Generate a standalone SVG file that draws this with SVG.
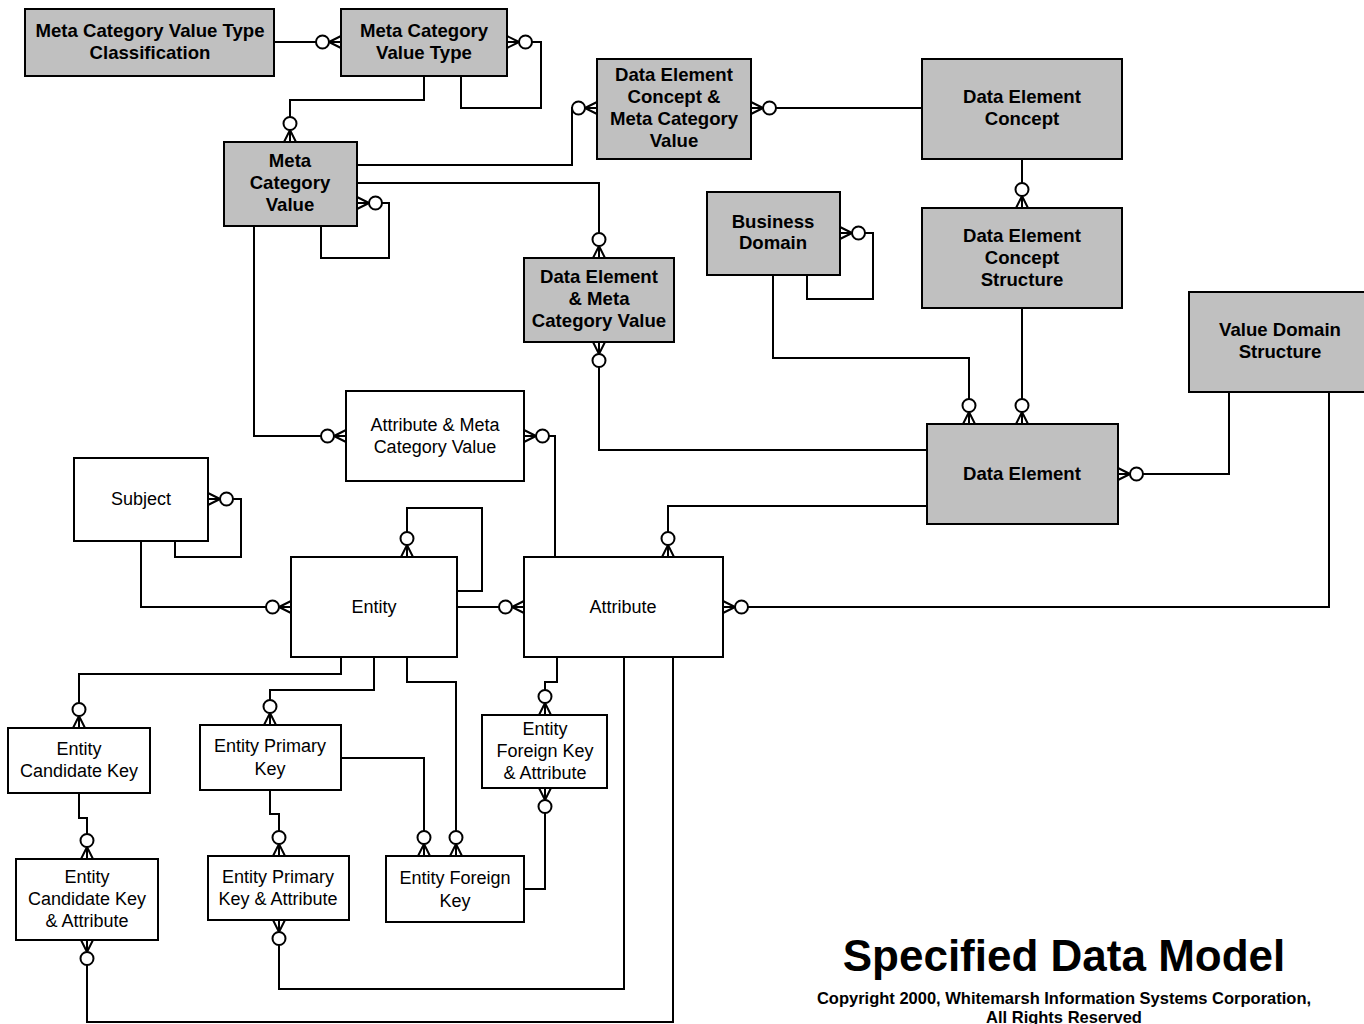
<svg xmlns="http://www.w3.org/2000/svg" xmlns:xlink="http://www.w3.org/1999/xlink" width="1364" height="1024" viewBox="0 0 1364 1024">
  <style>
    .box { stroke: #000; stroke-width: 2; }
    .gray { fill: #c0c0c0; }
    .white { fill: #fff; }
    .lbl { font-family: "Liberation Sans", Arial, sans-serif; font-size: 18px; text-anchor: middle; fill: #000; }
    .b { font-weight: bold; font-size: 18.6px; }
    .conn { fill: none; stroke: #000; stroke-width: 2; stroke-linejoin: miter; }
    .title { font-family: "Liberation Sans", Arial, sans-serif; font-weight: bold; text-anchor: middle; fill: #000; }
  </style>
  <defs>
    <!-- zero-or-many end: origin on the entity edge, line arrives from -y -->
    <g id="cf">
      <path d="M0,-12 L-6,0 M0,-12 L6,0 M0,-12 L0,0" fill="none" stroke="#000" stroke-width="2"/>
      <circle cx="0" cy="-18.5" r="6.5" fill="#fff" stroke="#000" stroke-width="2"/>
    </g>
  </defs>
  <rect width="1364" height="1024" fill="#fff"/>

  <!-- relationship lines -->
  <g id="connectors" class="conn">
    <path d="M274,42 H341"/>
    <path d="M507,42 H541 V108 H461 V76"/>
    <path d="M424,76 V100 H290 V142"/>
    <path d="M357,203 H389 V258 H321 V226"/>
    <path d="M357,165 H572 V108 H597"/>
    <path d="M357,183 H599 V258"/>
    <path d="M751,108 H922"/>
    <path d="M1022,159 V208"/>
    <path d="M840,233 H873 V299 H807 V275"/>
    <path d="M773,275 V358 H969 V424"/>
    <path d="M1022,308 V424"/>
    <path d="M599,342 V450 H927"/>
    <path d="M1229,392 V474 H1118"/>
    <path d="M1329,392 V607 H723"/>
    <path d="M927,506 H668 V557"/>
    <path d="M254,226 V436 H346"/>
    <path d="M524,436 H555 V557"/>
    <path d="M208,499 H241 V557 H175 V541"/>
    <path d="M141,541 V607 H291"/>
    <path d="M407,557 V508 H482 V591 H457"/>
    <path d="M457,607 H524"/>
    <path d="M341,657 V674 H79 V728"/>
    <path d="M374,657 V690 H270 V725"/>
    <path d="M407,657 V682 H456 V856"/>
    <path d="M557,657 V682 H545 V715"/>
    <path d="M79,793 V818 H87 V859"/>
    <path d="M270,790 V814 H279 V856"/>
    <path d="M341,758 H424 V856"/>
    <path d="M545,788 V889 H524"/>
    <path d="M624,657 V989 H279 V920"/>
    <path d="M673,657 V1022 H87 V940"/>
  </g>

  <!-- entities -->
  <g id="mcv-type-classification">
    <rect class="box gray" x="25" y="9" width="249" height="67"/>
    <text class="lbl b" x="150" y="37">Meta Category Value Type</text>
    <text class="lbl b" x="150" y="59">Classification</text>
  </g>
  <g id="mcv-type">
    <rect class="box gray" x="341" y="9" width="166" height="67"/>
    <text class="lbl b" x="424" y="37">Meta Category</text>
    <text class="lbl b" x="424" y="59">Value Type</text>
  </g>
  <g id="meta-category-value">
    <rect class="box gray" x="224" y="142" width="133" height="84"/>
    <text class="lbl b" x="290" y="167">Meta</text>
    <text class="lbl b" x="290" y="189">Category</text>
    <text class="lbl b" x="290" y="211">Value</text>
  </g>
  <g id="dec-mcv">
    <rect class="box gray" x="597" y="59" width="154" height="100"/>
    <text class="lbl b" x="674" y="81">Data Element</text>
    <text class="lbl b" x="674" y="103">Concept &amp;</text>
    <text class="lbl b" x="674" y="125">Meta Category</text>
    <text class="lbl b" x="674" y="147">Value</text>
  </g>
  <g id="data-element-concept">
    <rect class="box gray" x="922" y="59" width="200" height="100"/>
    <text class="lbl b" x="1022" y="103">Data Element</text>
    <text class="lbl b" x="1022" y="125">Concept</text>
  </g>
  <g id="business-domain">
    <rect class="box gray" x="707" y="192" width="133" height="83"/>
    <text class="lbl b" x="773" y="228">Business</text>
    <text class="lbl b" x="773" y="249">Domain</text>
  </g>
  <g id="dec-structure">
    <rect class="box gray" x="922" y="208" width="200" height="100"/>
    <text class="lbl b" x="1022" y="242">Data Element</text>
    <text class="lbl b" x="1022" y="264">Concept</text>
    <text class="lbl b" x="1022" y="286">Structure</text>
  </g>
  <g id="de-mcv">
    <rect class="box gray" x="524" y="258" width="150" height="84"/>
    <text class="lbl b" x="599" y="283">Data Element</text>
    <text class="lbl b" x="599" y="305">&amp; Meta</text>
    <text class="lbl b" x="599" y="327">Category Value</text>
  </g>
  <g id="value-domain-structure">
    <rect class="box gray" x="1189" y="292" width="180" height="100"/>
    <text class="lbl b" x="1280" y="336">Value Domain</text>
    <text class="lbl b" x="1280" y="358">Structure</text>
  </g>
  <g id="data-element">
    <rect class="box gray" x="927" y="424" width="191" height="100"/>
    <text class="lbl b" x="1022" y="480">Data Element</text>
  </g>
  <g id="attribute-mcv">
    <rect class="box white" x="346" y="391" width="178" height="90"/>
    <text class="lbl" x="435" y="431">Attribute &amp; Meta</text>
    <text class="lbl" x="435" y="453">Category Value</text>
  </g>
  <g id="subject">
    <rect class="box white" x="74" y="458" width="134" height="83"/>
    <text class="lbl" x="141" y="505">Subject</text>
  </g>
  <g id="entity">
    <rect class="box white" x="291" y="557" width="166" height="100"/>
    <text class="lbl" x="374" y="613">Entity</text>
  </g>
  <g id="attribute">
    <rect class="box white" x="524" y="557" width="199" height="100"/>
    <text class="lbl" x="623" y="613">Attribute</text>
  </g>
  <g id="entity-candidate-key">
    <rect class="box white" x="8" y="728" width="142" height="65"/>
    <text class="lbl" x="79" y="755">Entity</text>
    <text class="lbl" x="79" y="777">Candidate Key</text>
  </g>
  <g id="entity-primary-key">
    <rect class="box white" x="200" y="725" width="141" height="65"/>
    <text class="lbl" x="270" y="752">Entity Primary</text>
    <text class="lbl" x="270" y="775">Key</text>
  </g>
  <g id="efk-attribute">
    <rect class="box white" x="482" y="715" width="125" height="73"/>
    <text class="lbl" x="545" y="735">Entity</text>
    <text class="lbl" x="545" y="757">Foreign Key</text>
    <text class="lbl" x="545" y="779">&amp; Attribute</text>
  </g>
  <g id="eck-attribute">
    <rect class="box white" x="16" y="859" width="142" height="81"/>
    <text class="lbl" x="87" y="883">Entity</text>
    <text class="lbl" x="87" y="905">Candidate Key</text>
    <text class="lbl" x="87" y="927">&amp; Attribute</text>
  </g>
  <g id="epk-attribute">
    <rect class="box white" x="208" y="856" width="141" height="64"/>
    <text class="lbl" x="278" y="883">Entity Primary</text>
    <text class="lbl" x="278" y="905">Key &amp; Attribute</text>
  </g>
  <g id="entity-foreign-key">
    <rect class="box white" x="386" y="856" width="138" height="66"/>
    <text class="lbl" x="455" y="884">Entity Foreign</text>
    <text class="lbl" x="455" y="907">Key</text>
  </g>

  <!-- zero-or-many ends -->
  <g id="cardinality">
    <use xlink:href="#cf" transform="translate(341,42) rotate(-90)"/>
    <use xlink:href="#cf" transform="translate(507,42) rotate(90)"/>
    <use xlink:href="#cf" transform="translate(290,142)"/>
    <use xlink:href="#cf" transform="translate(357,203) rotate(90)"/>
    <use xlink:href="#cf" transform="translate(597,108) rotate(-90)"/>
    <use xlink:href="#cf" transform="translate(599,258)"/>
    <use xlink:href="#cf" transform="translate(751,108) rotate(90)"/>
    <use xlink:href="#cf" transform="translate(1022,208)"/>
    <use xlink:href="#cf" transform="translate(840,233) rotate(90)"/>
    <use xlink:href="#cf" transform="translate(969,424)"/>
    <use xlink:href="#cf" transform="translate(1022,424)"/>
    <use xlink:href="#cf" transform="translate(599,342) rotate(180)"/>
    <use xlink:href="#cf" transform="translate(1118,474) rotate(90)"/>
    <use xlink:href="#cf" transform="translate(723,607) rotate(90)"/>
    <use xlink:href="#cf" transform="translate(668,557)"/>
    <use xlink:href="#cf" transform="translate(346,436) rotate(-90)"/>
    <use xlink:href="#cf" transform="translate(524,436) rotate(90)"/>
    <use xlink:href="#cf" transform="translate(208,499) rotate(90)"/>
    <use xlink:href="#cf" transform="translate(291,607) rotate(-90)"/>
    <use xlink:href="#cf" transform="translate(407,557)"/>
    <use xlink:href="#cf" transform="translate(524,607) rotate(-90)"/>
    <use xlink:href="#cf" transform="translate(79,728)"/>
    <use xlink:href="#cf" transform="translate(270,725)"/>
    <use xlink:href="#cf" transform="translate(424,856)"/>
    <use xlink:href="#cf" transform="translate(456,856)"/>
    <use xlink:href="#cf" transform="translate(545,715)"/>
    <use xlink:href="#cf" transform="translate(87,859)"/>
    <use xlink:href="#cf" transform="translate(279,856)"/>
    <use xlink:href="#cf" transform="translate(545,788) rotate(180)"/>
    <use xlink:href="#cf" transform="translate(279,920) rotate(180)"/>
    <use xlink:href="#cf" transform="translate(87,940) rotate(180)"/>
  </g>

  <!-- title block -->
  <g id="title-block">
    <text class="title" x="1064" y="971" font-size="44">Specified Data Model</text>
    <text class="title" x="1064" y="1004" font-size="16.5">Copyright 2000, Whitemarsh Information Systems Corporation,</text>
    <text class="title" x="1064" y="1023" font-size="16.5">All Rights Reserved</text>
  </g>
</svg>
